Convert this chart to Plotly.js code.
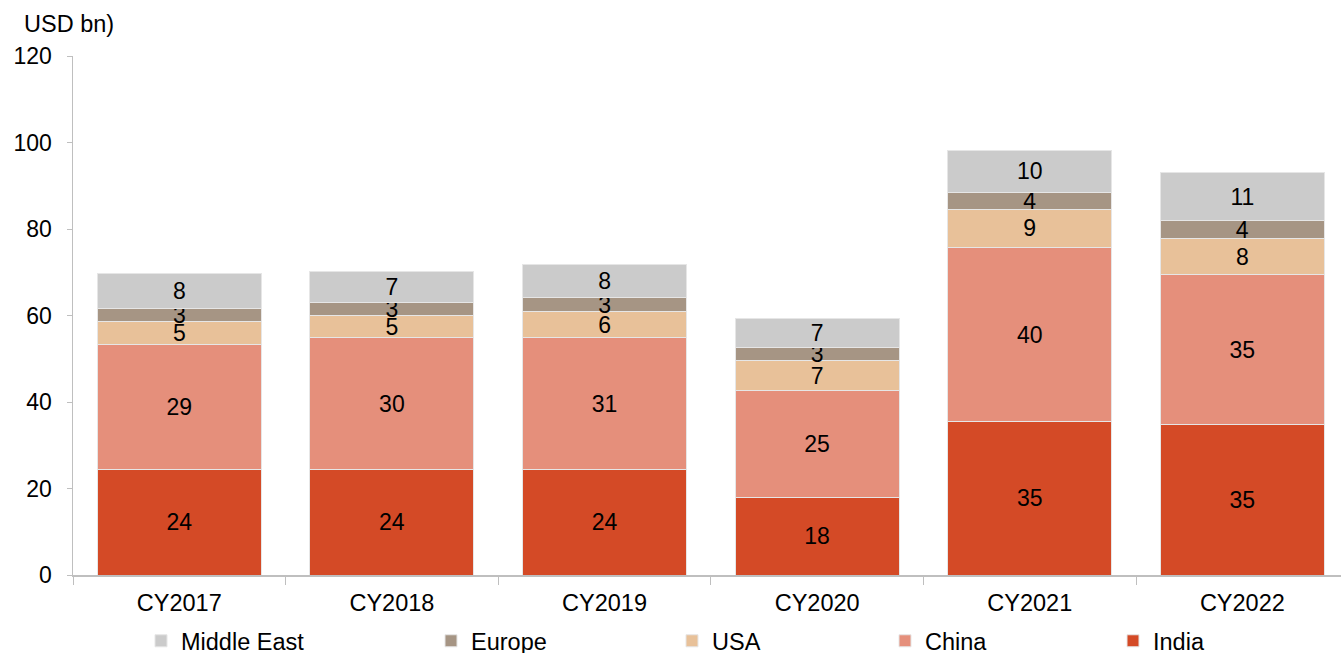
<!DOCTYPE html>
<html>
<head>
<meta charset="utf-8">
<script src="https://cdn.plot.ly/plotly-3.0.1.min.js"></script>
<style>
    html, body { margin: 0; padding: 0; background: white; }
    #chart { width: 1341px; height: 653px; }
</style>
</head>
<body>
<div id="chart"></div>
<script>
// Market size by region, USD bn (stacked)
const years = ['CY2017', 'CY2018', 'CY2019', 'CY2020', 'CY2021', 'CY2022'];
const india = [24.3, 24.4, 24.3, 18.0, 35.4, 34.7];
const china = [29.0, 30.4, 30.6, 24.6, 40.4, 34.7];
const usa = [5.2, 5.3, 6.0, 6.9, 8.7, 8.4];
const europe = [3.1, 3.0, 3.2, 3.1, 4.0, 4.1];
const middleEast = [8.0, 7.0, 7.7, 6.6, 9.6, 11.1];
const yTicks = [0, 20, 40, 60, 80, 100, 120];

const FONT = 'Liberation Sans, Arial, sans-serif';

// name, values, colour, legend id, legend text start x (px)
const series = [
    ['India', india, '#d44a26', 'legend5', 1153],
    ['China', china, '#e58f7b', 'legend4', 925],
    ['USA', usa, '#e8c199', 'legend3', 712],
    ['Europe', europe, '#a69584', 'legend2', 471],
    ['Middle East', middleEast, '#cbcbcb', 'legend', 181]
];

function makeTrace(s) {
    return {
        type: 'bar',
        name: s[0],
        x: years,
        y: s[1],
        marker: { color: s[2], line: { color: '#e6e6e6', width: 1 } },
        texttemplate: '%{y:.0f}',
        textposition: 'inside',
        insidetextanchor: 'middle',
        textangle: 0,
        constraintext: 'none',
        textfont: { family: FONT, size: 23, color: '#000000' },
        legend: s[3],
        showlegend: true,
        hoverinfo: 'skip'
    };
}

function makeLegend(px) {
    return {
        visible: true,
        orientation: 'h',
        xref: 'container',
        yref: 'container',
        x: (px - 40) / 1341,
        xanchor: 'left',
        y: 1 - 641 / 653,
        yanchor: 'middle',
        font: { family: FONT, size: 23.5, color: '#000000' },
        bgcolor: 'rgba(0,0,0,0)',
        borderwidth: 0,
        itemclick: false
    };
}

const data = series.map(makeTrace);

const layout = {
    width: 1341,
    height: 653,
    showlegend: true,
    barmode: 'stack',
    bargap: 0.228,
    margin: { l: 73, r: 0, t: 56, b: 78 },
    paper_bgcolor: 'white',
    plot_bgcolor: 'white',
    font: { family: FONT, size: 23, color: '#000000' },
    xaxis: {
        type: 'category',
        range: [-0.5, 5.464],
        showline: true,
        linecolor: '#bfbfbf',
        linewidth: 1.5,
        ticks: 'outside',
        tickson: 'boundaries',
        ticklen: 8,
        tickcolor: '#bfbfbf',
        showgrid: false,
        ticklabelstandoff: 6,
        tickfont: { family: FONT, size: 23.5, color: '#000000' }
    },
    yaxis: {
        range: [0, 120],
        tickvals: yTicks,
        showline: true,
        linecolor: '#bfbfbf',
        linewidth: 1.5,
        ticks: 'outside',
        ticklen: 5,
        tickcolor: '#bfbfbf',
        showgrid: false,
        zeroline: false,
        ticklabelstandoff: 10,
        tickfont: { family: FONT, size: 23, color: '#000000' }
    },
    annotations: [{
        text: 'USD bn)',
        xref: 'paper',
        yref: 'paper',
        x: -0.0402,
        y: 1.0617,
        xanchor: 'left',
        yanchor: 'middle',
        showarrow: false,
        font: { family: FONT, size: 23.5, color: '#000000' }
    }]
};

series.forEach(s => {
    layout[s[3]] = makeLegend(s[4]);
});

Plotly.newPlot('chart', data, layout, { displayModeBar: false, staticPlot: true });
</script>
</body>
</html>
